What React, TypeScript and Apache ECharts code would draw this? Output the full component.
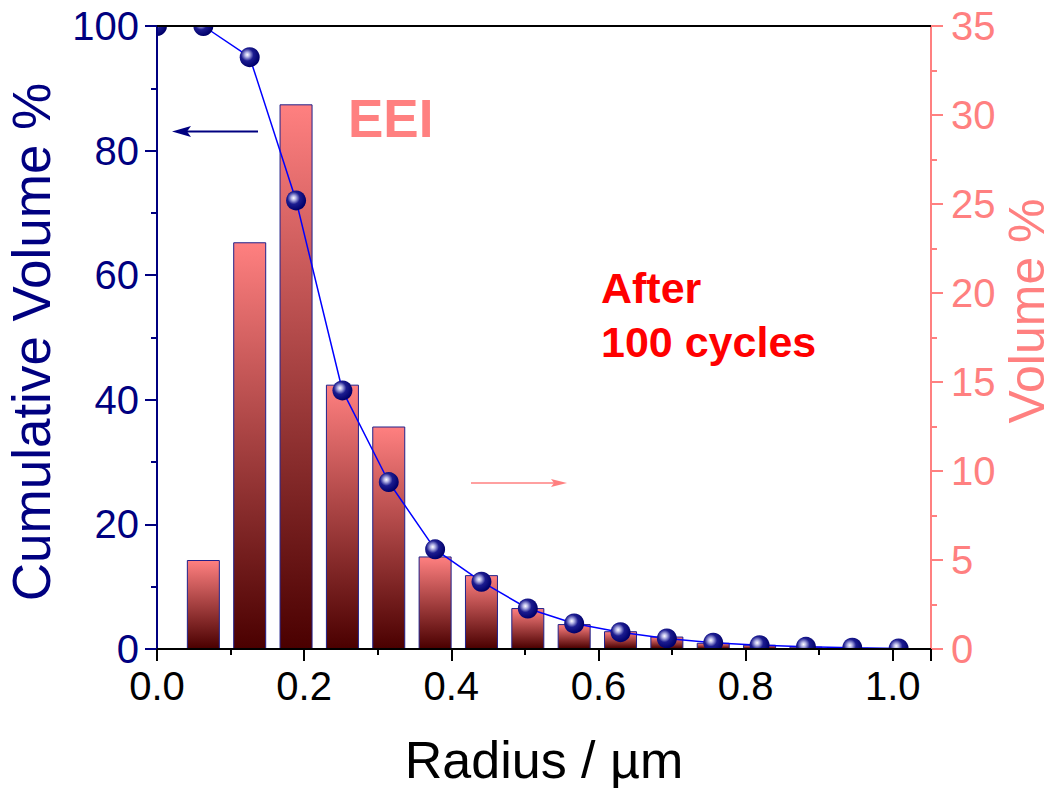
import React, { useEffect, useRef } from "react";
import * as echarts from "echarts";

// ---- data ----
const barRadius = [0.063, 0.126, 0.189, 0.252, 0.315, 0.378, 0.441, 0.504, 0.567, 0.63, 0.693, 0.756, 0.819, 0.882, 0.945];
const volumePct = [5.0, 22.85, 30.6, 14.85, 12.5, 5.2, 4.15, 2.3, 1.4, 1.0, 0.7, 0.35, 0.24, 0.13, 0.06];
const cumRadius = [0, 0.063, 0.126, 0.189, 0.252, 0.315, 0.378, 0.441, 0.504, 0.567, 0.63, 0.693, 0.756, 0.819, 0.882, 0.945, 1.008];
const cumVolume = [100, 100, 95.0, 72.0, 41.5, 26.8, 16.0, 10.8, 6.5, 4.1, 2.7, 1.7, 1.0, 0.6, 0.35, 0.2, 0.1];

const xTicks = { min: 0, max: 1.052, interval: 0.2 };
const leftTicks = { min: 0, max: 100, interval: 20 };
const rightTicks = { min: 0, max: 35, interval: 5 };

const FONT = '"Liberation Sans", Arial, sans-serif';
const NAVY = "#000080";
const PINK = "#ff8080";

export default function App() {
  const ref = useRef<HTMLDivElement>(null);
  useEffect(() => {
    if (!ref.current) return;
    const chart = echarts.init(ref.current, undefined, { renderer: "svg" });
    const gridL = 157, gridT = 26, gridR = 125, gridB = 139;
    const option: any = {
      animation: false,
      backgroundColor: "#ffffff",
      textStyle: { fontFamily: FONT },
      grid: { left: gridL, top: gridT, right: gridR, bottom: gridB, containLabel: false },
      xAxis: [
        {
          type: "value",
          min: xTicks.min,
          max: xTicks.max,
          interval: xTicks.interval,
          z: 5,
          axisLine: { show: true, onZero: false, lineStyle: { color: "#000", width: 2 } },
          axisTick: { show: true, inside: false, length: 12, lineStyle: { color: "#000", width: 2 } },
          minorTick: { show: true, splitNumber: 2, length: 6, lineStyle: { color: "#000", width: 2 } },
          splitLine: { show: false },
          axisLabel: {
            color: "#000",
            fontSize: 40,
            fontFamily: FONT,
            margin: 17,
            showMaxLabel: false,
            formatter: (v: number) => v.toFixed(1),
          },
        },
        {
          type: "value",
          position: "top",
          min: xTicks.min,
          max: xTicks.max,
          z: 5,
          axisLine: { show: true, onZero: false, lineStyle: { color: "#000", width: 2 } },
          axisTick: { show: false },
          axisLabel: { show: false },
          splitLine: { show: false },
        },
      ],
      yAxis: [
        {
          type: "value",
          position: "left",
          min: leftTicks.min,
          max: leftTicks.max,
          interval: leftTicks.interval,
          z: 5,
          axisLine: { show: true, onZero: false, lineStyle: { color: NAVY, width: 2 } },
          axisTick: { show: true, length: 12, lineStyle: { color: NAVY, width: 2 } },
          minorTick: { show: true, splitNumber: 2, length: 6, lineStyle: { color: NAVY, width: 2 } },
          splitLine: { show: false },
          axisLabel: { color: NAVY, fontSize: 40, fontFamily: FONT, margin: 18 },
        },
        {
          type: "value",
          position: "right",
          min: rightTicks.min,
          max: rightTicks.max,
          interval: rightTicks.interval,
          z: 5,
          axisLine: { show: true, onZero: false, lineStyle: { color: PINK, width: 2 } },
          axisTick: { show: true, length: 12, lineStyle: { color: PINK, width: 2 } },
          minorTick: { show: true, splitNumber: 2, length: 6, lineStyle: { color: PINK, width: 2 } },
          splitLine: { show: false },
          axisLabel: { color: PINK, fontSize: 40, fontFamily: FONT, margin: 20 },
        },
      ],
      series: [
        {
          type: "bar",
          xAxisIndex: 0,
          yAxisIndex: 1,
          z: -1,
          barWidth: 33,
          data: barRadius.map((r, i) => [r, volumePct[i]]),
          itemStyle: {
            color: {
              type: "linear",
              x: 0, y: 0, x2: 0, y2: 1,
              colorStops: [
                { offset: 0, color: "#ff8080" },
                { offset: 1, color: "#4a0000" },
              ],
            },
            borderColor: "#20208a",
            borderWidth: 1,
          },
        },
        {
          type: "line",
          xAxisIndex: 0,
          yAxisIndex: 0,
          z: -1,
          data: cumRadius.map((r, i) => [r, cumVolume[i]]),
          symbol: "circle",
          symbolSize: 20,
          clip: false,
          lineStyle: { color: "#0000ff", width: 1.5 },
          itemStyle: {
            color: {
              type: "radial",
              x: 0.38, y: 0.38, r: 0.62,
              colorStops: [
                { offset: 0, color: "#ffffff" },
                { offset: 0.18, color: "#b8b8e8" },
                { offset: 0.5, color: "#1c1c90" },
                { offset: 1, color: "#00006a" },
              ],
            },
          },
        },
      ],
      graphic: [
        // masks to clip symbols at the frame (axes drawn above)
        { type: "rect", z: 3, silent: true, shape: { x: 100, y: 0, width: 860, height: 25 }, style: { fill: "#fff" } },
        { type: "rect", z: 3, silent: true, shape: { x: 100, y: 0, width: 56, height: 700 }, style: { fill: "#fff" } },
        { type: "rect", z: 3, silent: true, shape: { x: 100, y: 650, width: 860, height: 50 }, style: { fill: "#fff" } },
        // axis titles
        {
          type: "text", z: 10, x: 31, y: 342, rotation: Math.PI / 2,
          style: { text: "Cumulative Volume %", fontSize: 53, lineHeight: 53, fontFamily: FONT, fill: NAVY, align: "center", verticalAlign: "middle" },
        },
        {
          type: "text", z: 10, x: 1027, y: 311, rotation: Math.PI / 2,
          style: { text: "Volume %", fontSize: 50, lineHeight: 46, fontFamily: FONT, fill: PINK, align: "center", verticalAlign: "middle" },
        },
        {
          type: "text", z: 10, x: 544, y: 760,
          style: { text: "Radius / µm", fontSize: 52, lineHeight: 52, fontFamily: FONT, fill: "#000", align: "center", verticalAlign: "middle" },
        },
        // annotations
        {
          type: "text", z: 10, x: 348, y: 118,
          style: { text: "EEI", fontSize: 53, fontWeight: "bold", fontFamily: FONT, fill: PINK, align: "left", verticalAlign: "middle" },
        },
        {
          type: "text", z: 10, x: 601, y: 288,
          style: { text: "After", fontSize: 43, fontWeight: "bold", fontFamily: FONT, fill: "#ff0000", align: "left", verticalAlign: "middle" },
        },
        {
          type: "text", z: 10, x: 601, y: 342,
          style: { text: "100 cycles", fontSize: 43, fontWeight: "bold", fontFamily: FONT, fill: "#ff0000", align: "left", verticalAlign: "middle" },
        },
        // arrows
        { type: "line", z: 10, shape: { x1: 258, y1: 131.5, x2: 185, y2: 131.5 }, style: { stroke: NAVY, lineWidth: 2 } },
        { type: "polygon", z: 10, shape: { points: [[172, 131.5], [191, 126], [187, 131.5], [191, 137]] }, style: { fill: NAVY } },
        { type: "line", z: 10, shape: { x1: 471, y1: 483, x2: 556, y2: 483 }, style: { stroke: PINK, lineWidth: 1.5 } },
        { type: "polygon", z: 10, shape: { points: [[567, 483], [551, 479], [554, 483], [551, 487]] }, style: { fill: PINK } },
      ],
    };
    chart.setOption(option);
    return () => chart.dispose();
  }, []);
  return <div ref={ref} style={{ position: "fixed", left: 0, top: 0, width: 1056, height: 788, background: "#fff" }} />;
}
